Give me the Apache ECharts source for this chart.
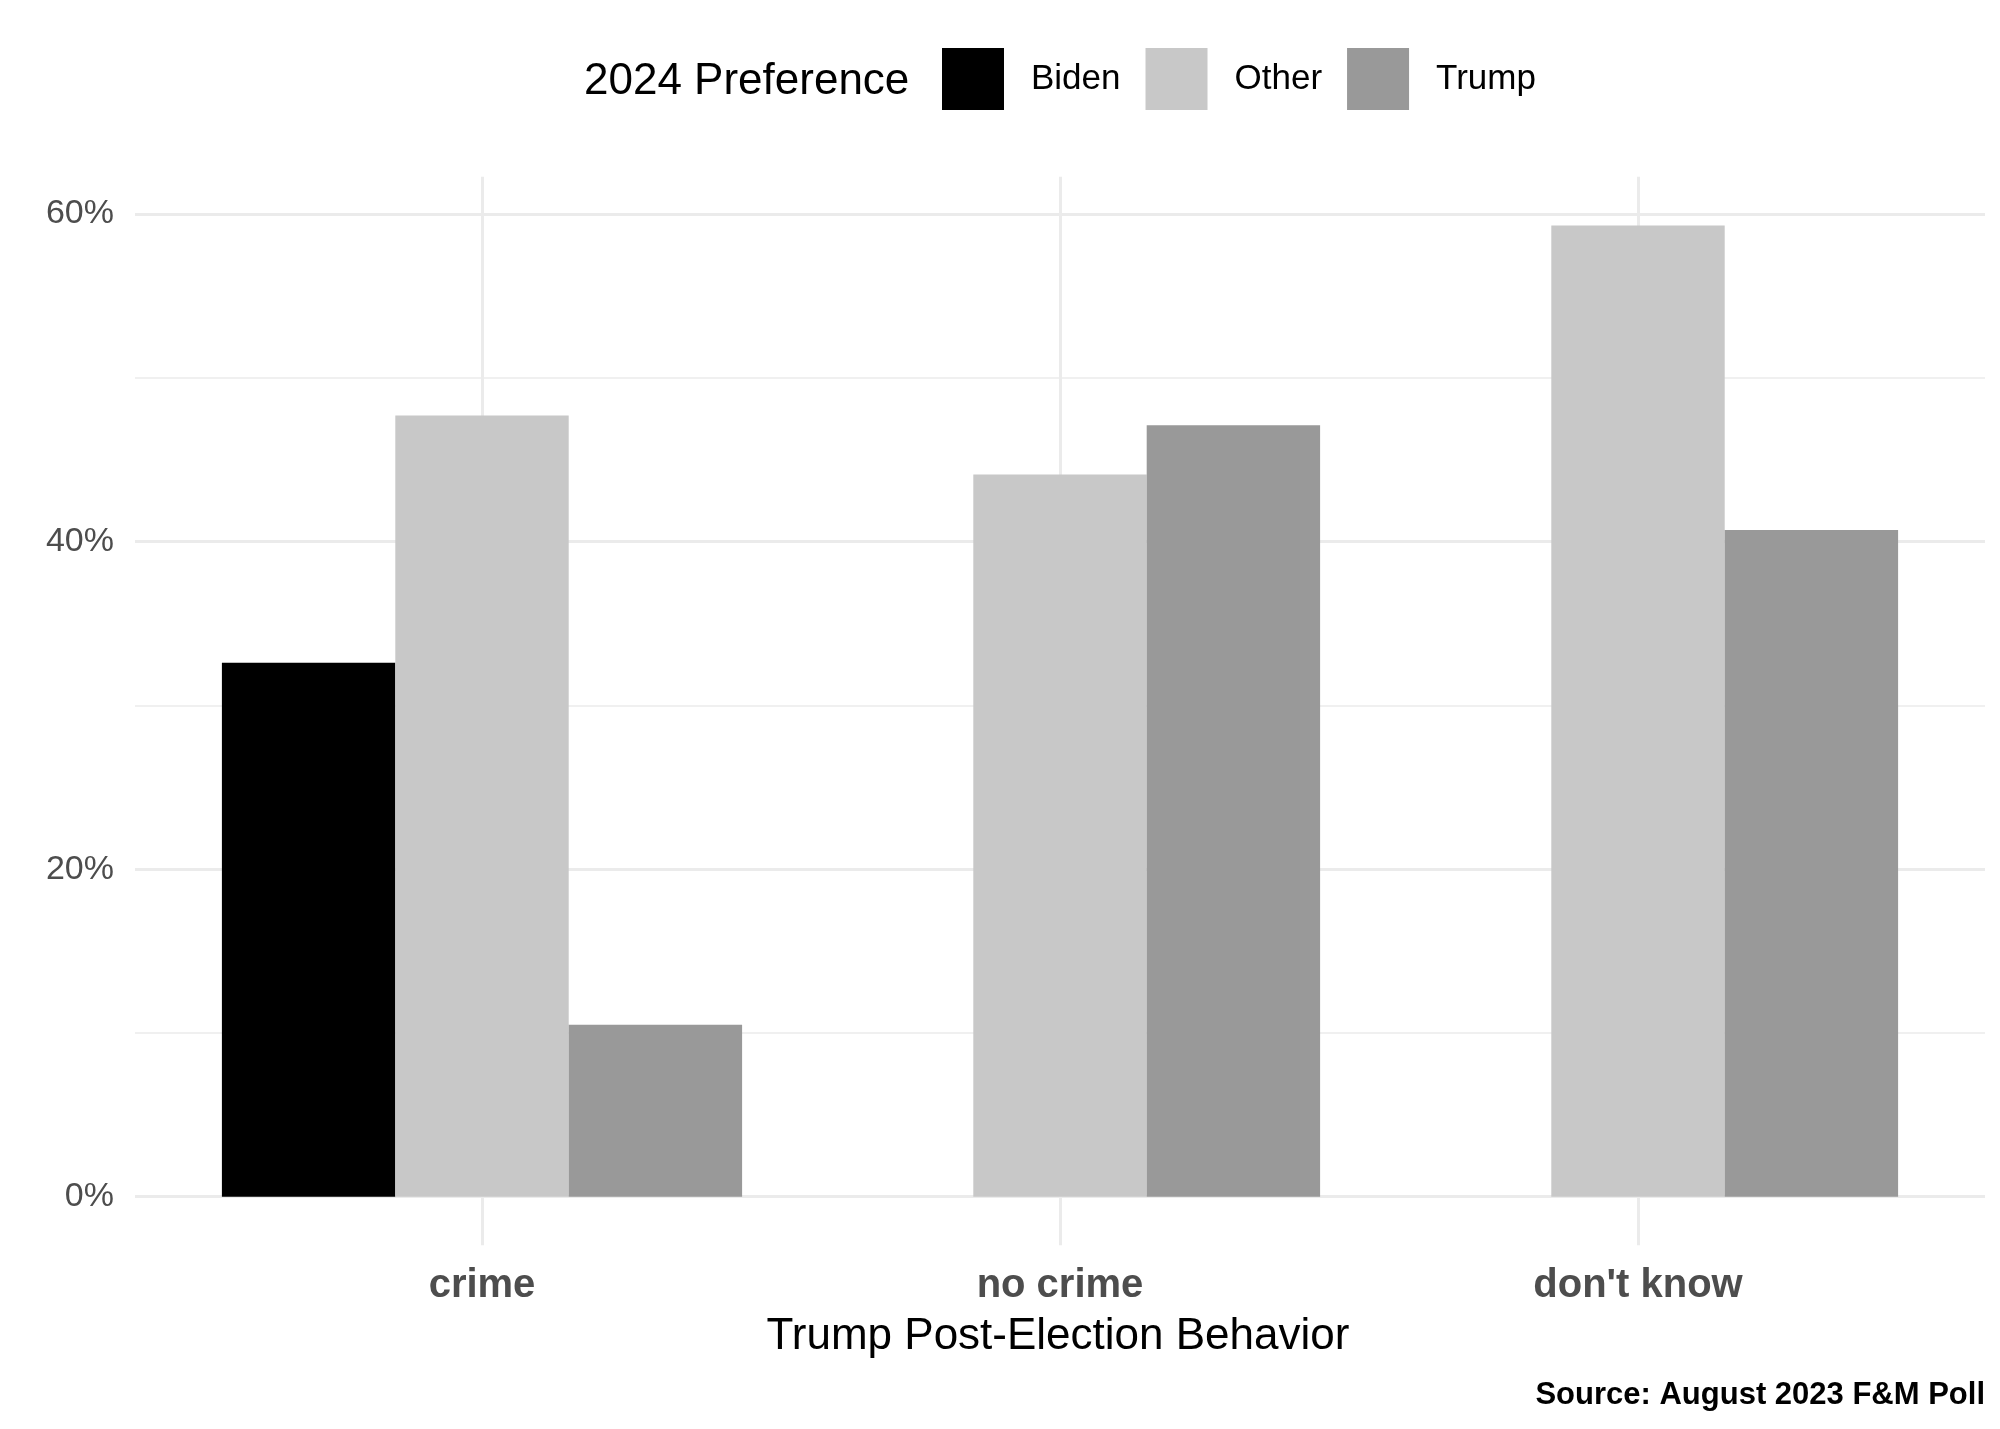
<!DOCTYPE html>
<html>
<head>
<meta charset="utf-8">
<script src="https://cdn.jsdelivr.net/npm/echarts@6/dist/echarts.min.js"></script>
<style>html,body{margin:0;padding:0;background:#fff}#c{width:2000px;height:1429px}</style>
</head>
<body>
<div id="c"></div>
<script>
var categories = ["crime", "no crime", "don't know"];
var seriesNames = ["Biden", "Other", "Trump"];
var biden = [32.6, null, null];
var other = [47.7, 44.1, 59.3];
var trump = [10.5, 47.1, 40.7];
var yTicks = [0, 20, 40, 60];
var colors = ["#000000", "#C8C8C8", "#999999"];
var legendTitle = "2024 Preference";
var xTitle = "Trump Post-Election Behavior";
var source = "Source: August 2023 F&M Poll";

var FONT = "Liberation Sans, Arial, sans-serif";
var chart = echarts.init(document.getElementById('c'), null, {renderer: 'canvas'});
var grid = '#EBEBEB';
chart.setOption({
  backgroundColor: '#ffffff',
  animation: false,
  textStyle: {fontFamily: FONT},
  legend: {
    left: 937, top: 43, itemWidth: 62, itemHeight: 62, itemGap: 25,
    icon: 'rect',
    data: seriesNames,
    textStyle: {fontSize: 35, color: '#000', fontFamily: FONT, padding: [0, 0, 0, 22]}
  },
  graphic: [
    {type: 'text', x: 584, y: 82, style: {text: legendTitle, fontSize: 44, fill: '#000', fontFamily: FONT, align: 'left', verticalAlign: 'middle'}},
    {type: 'text', x: 1058, y: 1337, style: {text: xTitle, fontSize: 44, fill: '#000', fontFamily: FONT, align: 'center', verticalAlign: 'middle'}},
    {type: 'text', x: 1985, y: 1395, style: {text: source, fontSize: 31, fontWeight: 'bold', fill: '#000', fontFamily: FONT, align: 'right', verticalAlign: 'middle'}}
  ],
  grid: [
    {left: 135, right: 15, top: 214, bottom: 232.3, outerBoundsMode: 'none', containLabel: false},
    {left: 482, right: 362, top: 176.7, bottom: 183.7, outerBoundsMode: 'none', containLabel: false},
    {left: 193, right: 73, top: 214, bottom: 232.3, outerBoundsMode: 'none', containLabel: false}
  ],
  xAxis: [
    {gridIndex: 0, type: 'value', show: false, min: 0, max: 1},
    {gridIndex: 1, type: 'value', min: 0, max: 2, interval: 1,
     axisLine: {show: false}, axisTick: {show: false}, axisLabel: {show: false},
     splitLine: {show: true, lineStyle: {color: grid, width: 3}}},
    {gridIndex: 2, type: 'category', data: categories, position: 'bottom',
     axisLine: {show: false}, axisTick: {show: false}, splitLine: {show: false},
     axisLabel: {margin: 69, fontSize: 40, fontWeight: 'bold', color: '#4D4D4D', fontFamily: FONT}}
  ],
  yAxis: [
    {gridIndex: 0, type: 'value', min: 0, max: 60, interval: 10, position: 'left',
     axisLine: {show: false}, axisTick: {show: false}, axisLabel: {show: false},
     splitLine: {show: true, lineStyle: {color: grid, width: 1.5}}},
    {gridIndex: 0, type: 'value', position: 'left', offset: 0,
     min: yTicks[0], max: yTicks[yTicks.length - 1], interval: yTicks[1] - yTicks[0],
     axisLine: {show: false}, axisTick: {show: false},
     axisLabel: {margin: 21, fontSize: 34, color: '#4D4D4D', fontFamily: FONT, formatter: '{value}%', padding: [6, 0, 0, 0]},
     splitLine: {show: true, lineStyle: {color: grid, width: 3}}},
    {gridIndex: 1, type: 'value', show: false, min: 0, max: 1},
    {gridIndex: 2, type: 'value', show: false, min: 0, max: 60, splitLine: {show: false}}
  ],
  series: [
    {name: seriesNames[0], type: 'bar', xAxisIndex: 2, yAxisIndex: 3, data: biden, itemStyle: {color: colors[0]}, barGap: '0%', barCategoryGap: '10%'},
    {name: seriesNames[1], type: 'bar', xAxisIndex: 2, yAxisIndex: 3, data: other, itemStyle: {color: colors[1]}, barGap: '0%', barCategoryGap: '10%'},
    {name: seriesNames[2], type: 'bar', xAxisIndex: 2, yAxisIndex: 3, data: trump, itemStyle: {color: colors[2]}, barGap: '0%', barCategoryGap: '10%'}
  ]
});
</script>
</body>
</html>
